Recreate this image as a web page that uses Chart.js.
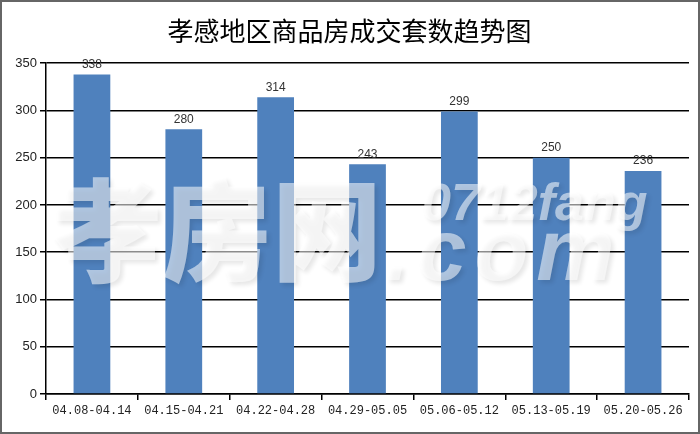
<!DOCTYPE html>
<html>
<head>
<meta charset="utf-8">
<script src="https://cdn.jsdelivr.net/npm/chart.js@4"></script>
<style>
  html, body { margin: 0; padding: 0; background: #fff; }
  #wrap { width: 700px; height: 434px; position: relative; }
</style>
</head>
<body>
<div id="wrap"><canvas id="c" width="700" height="434"></canvas></div>
<script>
var weeks = ['04.08-04.14', '04.15-04.21', '04.22-04.28', '04.29-05.05', '05.06-05.12', '05.13-05.19', '05.20-05.26'];
var sales = [338, 280, 314, 243, 299, 250, 236];
var yTicks = [0, 50, 100, 150, 200, 250, 300, 350];

// values over each bar
var valueLabels = {
  id: 'valueLabels',
  afterDatasetsDraw: function(chart) {
    var ctx = chart.ctx;
    var meta = chart.getDatasetMeta(0);
    ctx.save();
    ctx.font = '12px "Liberation Sans", Arial, sans-serif';
    ctx.fillStyle = '#333';
    ctx.textAlign = 'center';
    ctx.textBaseline = 'bottom';
    meta.data.forEach(function(bar, i) {
      ctx.fillText(sales[i], bar.x, bar.y - 4);
    });
    ctx.restore();
  }
};

// faint site watermark and outer frame
var frame = {
  id: 'frame',
  afterDraw: function(chart) {
    var ctx = chart.ctx;
    ctx.save();
    ctx.fillStyle = 'rgba(255,255,255,0.55)';
    ctx.shadowColor = 'rgba(0,0,0,0.18)';
    ctx.shadowBlur = 4;
    ctx.shadowOffsetX = 3;
    ctx.shadowOffsetY = 3;
    ctx.textBaseline = 'alphabetic';
    ctx.font = '900 110px "Noto Sans CJK SC", sans-serif';
    ctx.fillText('孝房网', 52, 272);
    ctx.font = 'italic bold 52px "Liberation Sans", sans-serif';
    ctx.fillText('0712fang', 422, 220);
    ctx.font = 'italic bold 88px "Liberation Sans", sans-serif';
    ctx.letterSpacing = '8px';
    ctx.fillText('.com', 385, 280);
    ctx.restore();

    ctx.save();
    ctx.strokeStyle = '#666';
    ctx.lineWidth = 2;
    ctx.strokeRect(1, 1, chart.width - 2, chart.height - 2);
    ctx.restore();
  }
};

var ctx = document.getElementById('c').getContext('2d');
var myChart = new Chart(ctx, {
  type: 'bar',
  data: {
    labels: weeks,
    datasets: [{
      label: '成交套数',
      data: sales,
      backgroundColor: '#4f81bd',
      barPercentage: 0.4,
      categoryPercentage: 1.0,
    }],
  },
  options: {
    responsive: false,
    animation: false,
    layout: { padding: { left: 10, right: 11, top: 0, bottom: 0 } },
    plugins: {
      legend: { display: false },
      tooltip: { enabled: false },
      title: {
        display: true,
        text: '孝感地区商品房成交套数趋势图',
        color: '#000',
        font: { family: '"Noto Sans CJK SC", sans-serif', size: 26, weight: 'normal' },
        padding: { top: 16, bottom: 16 },
      },
    },
    scales: {
      x: {
        grid: { offset: true, drawOnChartArea: false, color: '#000', tickLength: 6, lineWidth: 1.5 },
        border: { color: '#000', width: 1.5 },
        ticks: {
          color: '#222',
          maxRotation: 0,
          padding: 4,
          font: { family: '"Liberation Mono", monospace', size: 12 },
        },
        afterFit: function(s) { s.height = 40; },
      },
      y: {
        min: 0,
        max: 350,
        afterBuildTicks: function(s) { s.ticks = yTicks.map(function(v) { return { value: v }; }); },
        grid: { color: '#000', lineWidth: 1.5, tickLength: 6 },
        border: { color: '#000', width: 1.5 },
        ticks: {
          color: '#222',
          padding: 3,
          font: { family: '"Liberation Sans", Arial, sans-serif', size: 13 },
        },
        afterFit: function(s) { s.width = 36; },
      },
    },
  },
  plugins: [valueLabels, frame],
});
</script>
</body>
</html>
